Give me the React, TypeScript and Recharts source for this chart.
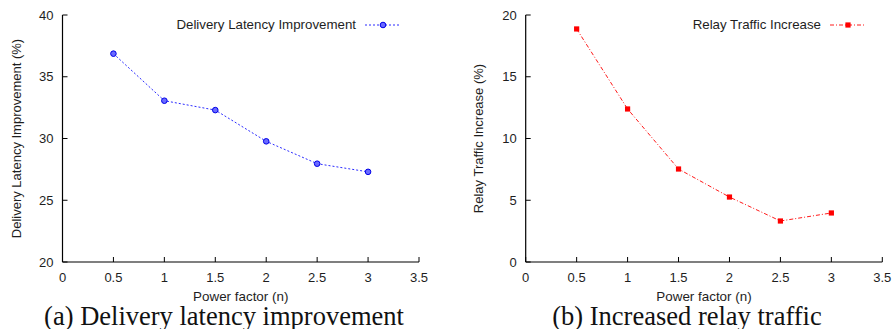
import React from "react";
import { LineChart, Line, XAxis, YAxis, Legend } from "recharts";

const powerFactors = [0.5, 1, 1.5, 2, 2.5, 3];
const latencyImprovement = [36.87, 33.06, 32.3, 29.77, 27.96, 27.3];
const relayIncrease = [18.87, 12.39, 7.53, 5.26, 3.32, 3.97];
const xTicks = [0, 0.5, 1, 1.5, 2, 2.5, 3, 3.5];
const yTicksA = [20, 25, 30, 35, 40];
const yTicksB = [0, 5, 10, 15, 20];

const dataA = powerFactors.map((x, i) => ({ x, v: latencyImprovement[i] }));
const dataB = powerFactors.map((x, i) => ({ x, v: relayIncrease[i] }));

const FONT = "'Liberation Sans', Arial, Helvetica, sans-serif";
const TXT = "#1e1e1e";
const TICK = 5;

const BottomTick = (p: any) => {
  const { x, y, payload } = p;
  return (
    <g>
      <line x1={x} y1={y} x2={x} y2={y - TICK} stroke="#000" strokeWidth={1} />
      <text x={x} y={y + 15} dy="0.35em" textAnchor="middle" fontFamily={FONT} fontSize={13} fill={TXT}>
        {String(payload.value)}
      </text>
    </g>
  );
};
const TopTick = (p: any) => {
  const { x, y } = p;
  return <line x1={x} y1={y} x2={x} y2={y + TICK} stroke="#000" strokeWidth={1} />;
};
const LeftTick = (p: any) => {
  const { x, y, payload } = p;
  return (
    <g>
      <line x1={x} y1={y} x2={x + TICK} y2={y} stroke="#000" strokeWidth={1} />
      <text x={x - 9} y={y} dy="0.35em" textAnchor="end" fontFamily={FONT} fontSize={13} fill={TXT}>
        {String(payload.value)}
      </text>
    </g>
  );
};
const RightTick = (p: any) => {
  const { x, y } = p;
  return <line x1={x} y1={y} x2={x - TICK} y2={y} stroke="#000" strokeWidth={1} />;
};

const YLabel = (props: any) => {
  const { viewBox, cx, text } = props;
  const cy = viewBox ? viewBox.y + viewBox.height / 2 : 138;
  return (
    <text
      x={cx}
      y={cy}
      dy="0.35em"
      transform={`rotate(-90 ${cx} ${cy})`}
      textAnchor="middle"
      fontFamily={FONT}
      fontSize={13}
      fill={TXT}
    >
      {text}
    </text>
  );
};

const BlueDot = (p: any) => {
  const { cx, cy } = p;
  if (cx == null || cy == null) return null;
  return (
    <g>
      <circle cx={cx} cy={cy} r={2.8} fill="#6a6aff" stroke="#0000e8" strokeWidth={1} />
    </g>
  );
};
const RedDot = (p: any) => {
  const { cx, cy } = p;
  if (cx == null || cy == null) return null;
  return <rect x={cx - 2.6} y={cy - 2.6} width={5.2} height={5.2} fill="#ff0000" />;
};

const LegendContent = ({ label, color, dash, kind }: any) => (
  <div style={{ display: "flex", alignItems: "center", fontFamily: FONT, fontSize: 13.3, color: TXT, whiteSpace: "nowrap" }}>
    <span>{label}</span>
    <svg width={44} height={12} style={{ marginLeft: 7 }}>
      <line x1={2} y1={6} x2={38} y2={6} stroke={color} strokeWidth={1} strokeDasharray={dash} />
      {kind === "circle" ? (
        <circle cx={20} cy={6} r={2.8} fill="#6a6aff" stroke="#0000e8" strokeWidth={1} />
      ) : (
        <rect x={17.4} y={3.4} width={5.2} height={5.2} fill="#ff0000" />
      )}
    </svg>
  </div>
);

type PanelProps = {
  data: any[];
  yTicks: number[];
  yDomain: [number, number];
  yLabel: string;
  yLabelX: number;
  leftW: number;
  rightM: number;
  color: string;
  dash: string;
  dot: any;
  legendLabel: string;
  legendRight: number;
  kind: string;
};

const Panel = (pp: PanelProps) => (
  <LineChart width={447} height={305} data={pp.data} margin={{ top: 15, right: pp.rightM, left: 0, bottom: 0 }}>
    <XAxis
      xAxisId="b"
      dataKey="x"
      type="number"
      domain={[0, 3.5]}
      ticks={xTicks}
      orientation="bottom"
      height={43}
      tickSize={0}
      tickMargin={0}
      tickLine={false}
      tick={<BottomTick />}
      axisLine={{ stroke: "#000", strokeWidth: 1.2 }}
      interval={0}
      allowDataOverflow
      label={{
        value: "Power factor (n)",
        position: "insideBottom",
        offset: 4,
        style: { fontFamily: FONT, fontSize: 13.4, fill: TXT },
      }}
    />
    <XAxis
      xAxisId="t"
      dataKey="x"
      type="number"
      domain={[0, 3.5]}
      ticks={xTicks}
      orientation="top"
      height={0}
      tickSize={0}
      tickMargin={0}
      tickLine={false}
      tick={<TopTick />}
      axisLine={{ stroke: "#000", strokeWidth: 1.2 }}
      interval={0}
      allowDataOverflow
    />
    <YAxis
      yAxisId="l"
      type="number"
      domain={pp.yDomain}
      ticks={pp.yTicks}
      orientation="left"
      width={pp.leftW}
      tickSize={0}
      tickMargin={0}
      tickLine={false}
      tick={<LeftTick />}
      axisLine={{ stroke: "#000", strokeWidth: 1.2 }}
      interval={0}
      allowDataOverflow
      label={<YLabel cx={pp.yLabelX} text={pp.yLabel} />}
    />
    <YAxis
      yAxisId="r"
      type="number"
      domain={pp.yDomain}
      ticks={pp.yTicks}
      orientation="right"
      width={0}
      tickSize={0}
      tickMargin={0}
      tickLine={false}
      tick={<RightTick />}
      axisLine={{ stroke: "#000", strokeWidth: 1.2 }}
      interval={0}
      allowDataOverflow
    />
    <Legend
      layout="vertical"
      verticalAlign="middle"
      align="center"
      wrapperStyle={{ position: "absolute", top: 17, right: pp.legendRight, left: "auto", width: "auto" }}
      content={() => <LegendContent label={pp.legendLabel} color={pp.color} dash={pp.dash} kind={pp.kind} />}
    />
    <Line
      xAxisId="b"
      yAxisId="l"
      dataKey="v"
      type="linear"
      stroke={pp.color}
      strokeWidth={1}
      strokeDasharray={pp.dash}
      dot={pp.dot}
      activeDot={false}
      isAnimationActive={false}
    />
  </LineChart>
);

const captionStyle: React.CSSProperties = {
  position: "absolute",
  top: 306,
  fontFamily: "'Liberation Serif', 'DejaVu Serif', serif",
  fontSize: 26.5,
  color: "#111",
  whiteSpace: "nowrap",
  lineHeight: "20px",
  height: 20,
};

export default function App() {
  return (
    <div style={{ position: "absolute", left: 0, top: 0, width: 894, height: 329, background: "#fff", overflow: "hidden" }}>
      <div style={{ position: "absolute", left: 0, top: 0 }}>
        <Panel
          data={dataA}
          yTicks={yTicksA}
          yDomain={[20, 40]}
          yLabel="Delivery Latency Improvement (%)"
          yLabelX={16}
          leftW={62.5}
          rightM={28}
          color="#2b2bff"
          dash="2 2"
          dot={<BlueDot />}
          legendLabel="Delivery Latency Improvement"
          legendRight={40}
          kind="circle"
        />
      </div>
      <div style={{ position: "absolute", left: 447, top: 0 }}>
        <Panel
          data={dataB}
          yTicks={yTicksB}
          yDomain={[0, 20]}
          yLabel="Relay Traffic Increase (%)"
          yLabelX={31}
          leftW={78.7}
          rightM={11.7}
          color="#ff1a1a"
          dash="4 2 1 2"
          dot={<RedDot />}
          legendLabel="Relay Traffic Increase"
          legendRight={22}
          kind="square"
        />
      </div>
      <div style={{ ...captionStyle, left: 0, width: 448, textAlign: "center" }}>(a) Delivery latency improvement</div>
      <div style={{ ...captionStyle, left: 463, width: 448, textAlign: "center" }}>(b) Increased relay traffic</div>
    </div>
  );
}
